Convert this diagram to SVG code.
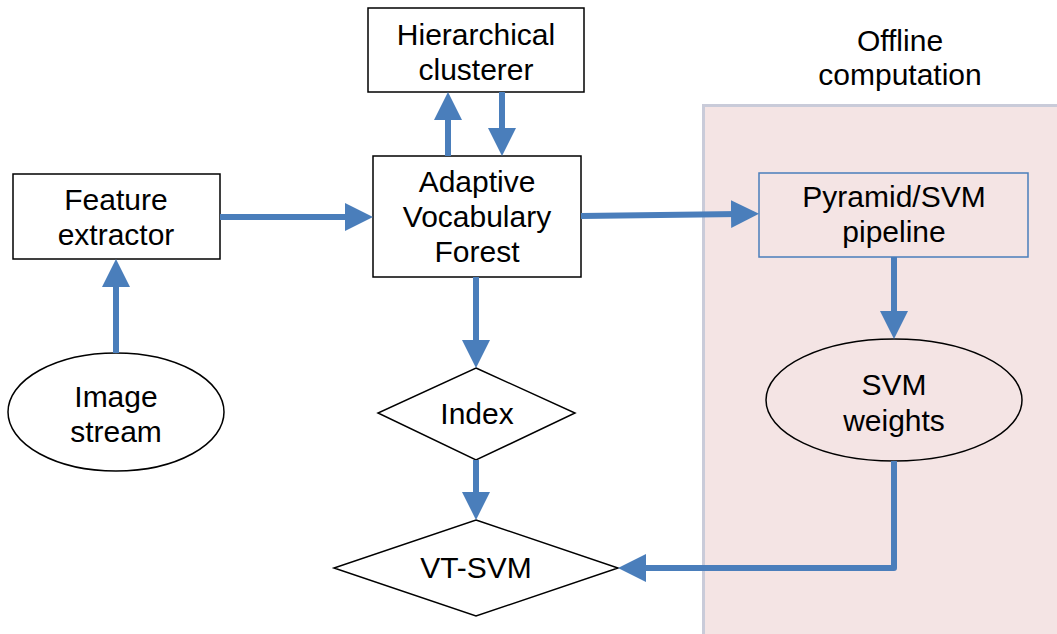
<svg xmlns="http://www.w3.org/2000/svg" width="1057" height="634" viewBox="0 0 1057 634">
  <style>
    .box { fill: #ffffff; stroke: #000000; stroke-width: 1.5; }
    .blue-box { fill: none; stroke: #4a7ebb; stroke-width: 1.5; }
    .label { font-family: "Liberation Sans", Arial, sans-serif; font-size: 30px; fill: #000000; text-anchor: middle; }
    .conn { fill: none; stroke: #4a7ebb; stroke-width: 6; marker-end: url(#arrow); }
  </style>
  <defs>
    <marker id="arrow" markerUnits="userSpaceOnUse" markerWidth="30" markerHeight="30" refX="8" refY="14" orient="auto">
      <path d="M0,0 L28,14 L0,28 z" fill="#4a7ebb"/>
    </marker>
  </defs>

  <rect width="1057" height="634" fill="#ffffff"/>

  <!-- offline computation region -->
  <g id="offline-region">
    <rect x="703.5" y="105.5" width="360" height="540" fill="#f4e4e4" stroke="#c9cbd9" stroke-width="3"/>
    <text class="label" x="900" y="51">Offline</text>
    <text class="label" x="900" y="85">computation</text>
  </g>

  <g id="hierarchical-clusterer">
    <rect class="box" x="368" y="8" width="216" height="84"/>
    <text class="label" x="476" y="45">Hierarchical</text>
    <text class="label" x="476" y="80">clusterer</text>
  </g>

  <g id="adaptive-vocabulary-forest">
    <rect class="box" x="373" y="156" width="208" height="121"/>
    <text class="label" x="477" y="192">Adaptive</text>
    <text class="label" x="477" y="227">Vocabulary</text>
    <text class="label" x="477" y="262">Forest</text>
  </g>

  <g id="feature-extractor">
    <rect class="box" x="13" y="174" width="207" height="85"/>
    <text class="label" x="116" y="210">Feature</text>
    <text class="label" x="116" y="245">extractor</text>
  </g>

  <g id="image-stream">
    <ellipse class="box" cx="116" cy="412" rx="108" ry="59"/>
    <text class="label" x="116" y="407">Image</text>
    <text class="label" x="116" y="442">stream</text>
  </g>

  <g id="pyramid-svm-pipeline">
    <rect class="blue-box" x="759" y="173" width="269" height="84"/>
    <text class="label" x="894" y="207">Pyramid/SVM</text>
    <text class="label" x="894" y="242">pipeline</text>
  </g>

  <g id="svm-weights">
    <ellipse fill="none" stroke="#000000" stroke-width="1.5" cx="894" cy="400" rx="128" ry="61"/>
    <text class="label" x="894" y="395">SVM</text>
    <text class="label" x="894" y="431">weights</text>
  </g>

  <g id="index">
    <polygon class="box" points="476,368 575,413 476,460 378,413"/>
    <text class="label" x="477" y="424">Index</text>
  </g>

  <g id="vt-svm">
    <polygon class="box" points="476,520 618,568 476,616 334,568"/>
    <text class="label" x="476" y="578">VT-SVM</text>
  </g>

  <g id="connectors">
    <!-- forest to clusterer and back -->
    <line class="conn" x1="448" y1="156" x2="448" y2="112"/>
    <line class="conn" x1="502" y1="92" x2="502" y2="136"/>
    <!-- image stream up to feature extractor -->
    <line class="conn" x1="116" y1="353" x2="116" y2="279"/>
    <!-- feature extractor to forest -->
    <line class="conn" x1="220" y1="217" x2="353" y2="217"/>
    <!-- forest to pyramid pipeline -->
    <line class="conn" x1="581" y1="216" x2="739" y2="214"/>
    <!-- forest to index -->
    <line class="conn" x1="476" y1="277" x2="476" y2="348"/>
    <!-- index to vt-svm -->
    <line class="conn" x1="476" y1="460" x2="476" y2="500"/>
    <!-- pipeline to svm weights -->
    <line class="conn" x1="894" y1="257" x2="894" y2="319"/>
    <!-- svm weights to vt-svm -->
    <polyline class="conn" points="894,461 894,568 638,568" stroke-linejoin="round"/>
  </g>
</svg>
